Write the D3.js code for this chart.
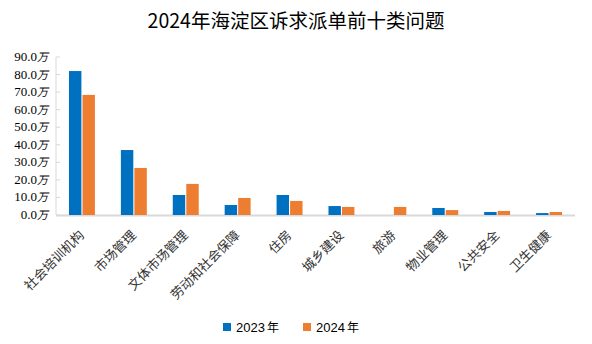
<!DOCTYPE html>
<html><head><meta charset="utf-8">
<script src="https://cdn.jsdelivr.net/npm/d3@7"></script>
<style>body{margin:0;background:#fff}svg{display:block}</style>
</head><body>
<script>
const categories = ["社会培训机构","市场管理","文体市场管理","劳动和社会保障","住房","城乡建设","旅游","物业管理","公共安全","卫生健康"];
const series2023 = [82.0,37.0,11.4,5.7,11.4,5.1,0,4.0,1.7,1.1];
const series2024 = [68.4,26.8,17.7,9.7,8.0,4.6,4.6,2.8,2.3,1.7];
const seriesNames = ["2023年","2024年"];
const yTicks = [0,10,20,30,40,50,60,70,80,90];
const colors = ["#0070C0","#ED7D31"];

const W=592,H=344;
const svg=d3.select("body").append("svg").attr("width",W).attr("height",H);
const m={l:56,r:17,t:57,b:129};
const x=d3.scaleBand().domain(categories).range([m.l,W-m.r]).paddingInner(0.5).paddingOuter(0.25);
const x1=d3.scaleBand().domain([0,1]).range([0,x.bandwidth()]).paddingInner(0.08);
const y=d3.scaleLinear().domain([0,90]).range([H-m.b,m.t]);

svg.append("text").attr("x",W/2).attr("y",28).attr("text-anchor","middle")
  .attr("font-family","'Noto Sans CJK SC'").attr("font-size",19.5).attr("fill","#000")
  .text("2024年海淀区诉求派单前十类问题");

// y axis
const ya=svg.append("g");
ya.append("line").attr("x1",m.l).attr("x2",m.l).attr("y1",y(90)).attr("y2",y(0)).attr("stroke","#d9d9d9");
yTicks.forEach(t=>{
  ya.append("line").attr("x1",m.l).attr("x2",m.l+4).attr("y1",y(t)).attr("y2",y(t)).attr("stroke","#d9d9d9");
  const tx=ya.append("text").attr("x",m.l-8).attr("y",y(t)+4).attr("text-anchor","end")
    .attr("font-family","'Liberation Serif'").attr("font-size",13).attr("fill","#000");
  tx.append("tspan").text(t.toFixed(1));
  tx.append("tspan").attr("font-style","italic").attr("font-family","'Noto Sans CJK SC'").attr("font-size",11).text("万");
});
// x axis
svg.append("line").attr("x1",m.l).attr("x2",W-m.r).attr("y1",y(0)+0.5).attr("y2",y(0)+0.5).attr("stroke","#d9d9d9").attr("stroke-width",2);

const data=categories.map((c,i)=>({c,v:[series2023[i],series2024[i]]}));
const g=svg.append("g");
data.forEach(d=>{
  d.v.forEach((v,k)=>{
    if(v<=0) return;
    g.append("rect").attr("x",x(d.c)+x1(k)).attr("width",x1.bandwidth())
     .attr("y",y(v)).attr("height",y(0)-y(v)).attr("fill",colors[k]);
  });
  const cx=x(d.c)+x.bandwidth()/2+3;
  svg.append("text").attr("transform",`translate(${cx},${y(0)+21}) rotate(-45)`)
    .attr("text-anchor","end").attr("font-family","'Noto Sans CJK SC'").attr("font-size",13)
    .attr("fill","#333").text(d.c);
});

// legend
const lg=svg.append("g");
[[223,236],[303,316]].forEach((p,k)=>{
  lg.append("rect").attr("x",p[0]).attr("y",323).attr("width",8).attr("height",8).attr("fill",colors[k]);
  const t=lg.append("text").attr("x",p[1]).attr("y",332).attr("font-family","'Liberation Sans'").attr("font-size",13).attr("fill","#000");
  t.append("tspan").text(seriesNames[k].slice(0,4));
  t.append("tspan").attr("font-family","'Noto Sans CJK SC'").attr("font-size",12).attr("dx",2).text("年");
});
</script>
</body></html>
